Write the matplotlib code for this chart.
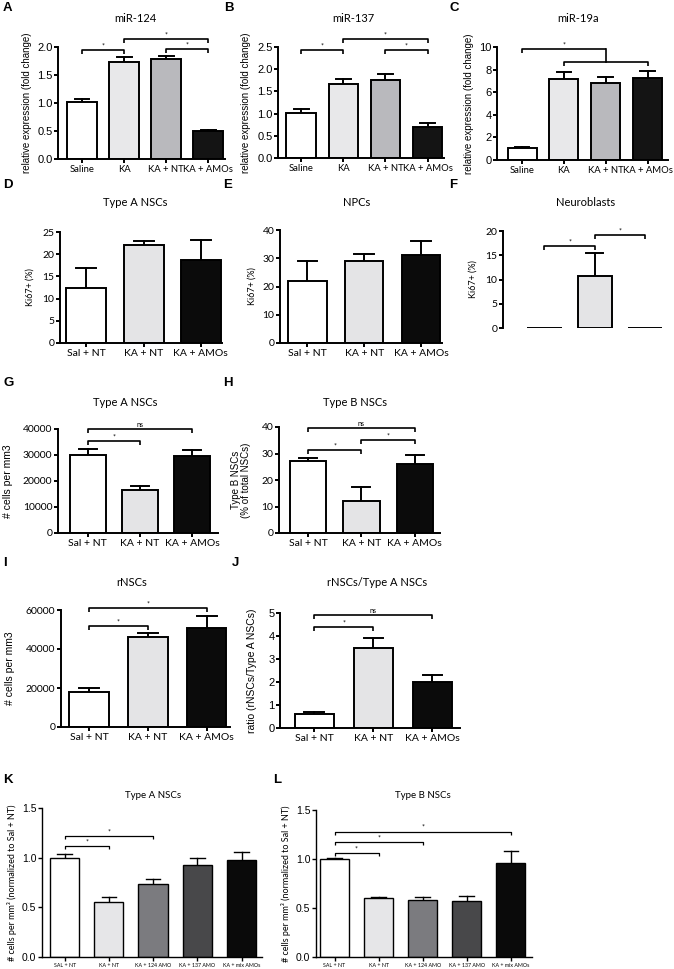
import matplotlib
matplotlib.use('Agg')
import matplotlib.pyplot as plt

plt.rcParams['font.family'] = ['Lato', 'DejaVu Sans']
ARIAL = ['Liberation Sans', 'DejaVu Sans']
CALI = ['Lato', 'DejaVu Sans']

W, H = 674, 969
fig = plt.figure(figsize=(W / 100, H / 100), dpi=100)

# ---------------- data ----------------
mir_groups = ["Saline", "KA", "KA + NT", "KA + AMOs"]
mir124 = [1.02, 1.74, 1.79, 0.50]
mir124_err = [0.05, 0.08, 0.05, 0.02]
mir137 = [1.02, 1.67, 1.75, 0.70]
mir137_err = [0.08, 0.10, 0.15, 0.08]
mir19a = [1.05, 7.2, 6.85, 7.3]
mir19a_err = [0.08, 0.6, 0.5, 0.55]

grp3 = ["Sal + NT", "KA + NT", "KA + AMOs"]
ki67_typeA = [12.5, 22.0, 18.7]
ki67_typeA_err = [4.5, 1.0, 4.5]
ki67_npc = [22.0, 29.0, 31.0]
ki67_npc_err = [7.0, 2.5, 5.0]
ki67_nb = [0.0, 10.7, 0.0]
ki67_nb_err = [0.0, 4.7, 0.0]

typeA_cells = [30000, 16500, 29500]
typeA_cells_err = [2500, 1500, 2300]
typeB_pct = [27.0, 12.0, 26.0]
typeB_pct_err = [1.2, 5.5, 3.3]
rnsc_cells = [18000, 46000, 51000]
rnsc_cells_err = [2200, 2300, 6000]
ratio_rnsc = [0.62, 3.47, 2.02]
ratio_rnsc_err = [0.08, 0.45, 0.28]

grp5 = ["SAL + NT", "KA + NT", "KA + 124 AMO", "KA + 137 AMO", "KA + mix AMOs"]
norm_typeA = [1.0, 0.55, 0.73, 0.93, 0.98]
norm_typeA_err = [0.04, 0.05, 0.06, 0.07, 0.08]
norm_typeB = [1.0, 0.60, 0.58, 0.57, 0.96]
norm_typeB_err = [0.01, 0.01, 0.03, 0.05, 0.12]

col4 = ["#ffffff", "#e8e8ea", "#b9b9bd", "#141414"]
col3 = ["#ffffff", "#e4e4e6", "#0b0b0b"]
col5 = ["#ffffff", "#e6e6e8", "#7b7b7f", "#48484a", "#0a0a0a"]


def add_ax(l, t, r, b):
    return fig.add_axes([l / W, 1 - b / H, (r - l) / W, (b - t) / H])


def panel(box, vals, errs, cols, labels, ylim, yticks, xlim, width,
          title, ylabel, letter, letter_xy, title_xy, ylab_off,
          tfs=7.5, tfam=CALI, lfs=7, lfam=ARIAL, xfs=7.5, titfs=8,
          show_bottom=True, yfmt=None, lw=1.4):
    ax = add_ax(*box)
    x = list(range(len(vals)))
    ax.bar(x, vals, width=width, color=cols, edgecolor='black', linewidth=lw, zorder=2)
    for xi, v, e in zip(x, vals, errs):
        if e > 0:
            ax.plot([xi, xi], [v, v + e], color='black', lw=lw, zorder=1, clip_on=False)
            ax.plot([xi - width * 0.25, xi + width * 0.25], [v + e, v + e],
                    color='black', lw=lw, zorder=1, clip_on=False)
    ax.set_xlim(*xlim)
    ax.set_ylim(*ylim)
    ax.set_yticks(yticks)
    if yfmt:
        ax.set_yticklabels([yfmt.format(t) for t in yticks], family=tfam, fontsize=tfs)
    else:
        ax.set_yticklabels([str(t) for t in yticks], family=tfam, fontsize=tfs)
    ax.spines['top'].set_visible(False)
    ax.spines['right'].set_visible(False)
    ax.spines['left'].set_linewidth(lw)
    ax.spines['bottom'].set_linewidth(lw)
    ax.tick_params(axis='y', direction='out', length=3, width=lw, pad=1)
    if show_bottom:
        ax.set_xticks(x)
        ax.set_xticklabels(labels, family=CALI, fontsize=xfs)
        ax.tick_params(axis='x', direction='out', length=3, width=lw, pad=1)
    else:
        ax.spines['bottom'].set_visible(False)
        ax.set_xticks([])
    ax.patch.set_visible(False)
    l, t, r, b = box
    ax.set_ylabel(ylabel, fontsize=lfs, family=lfam, linespacing=1.0)
    ax.yaxis.set_label_coords(ylab_off / (r - l), 0.5)
    fig.text(letter_xy[0] / W, 1 - letter_xy[1] / H, letter, fontsize=9.5,
             fontweight='bold', ha='left', va='center', family=ARIAL)
    fig.text(title_xy[0] / W, 1 - title_xy[1] / H, title, fontsize=titfs,
             ha='center', va='center', family=CALI)
    return ax


def bracket(ax, x1, x2, y, text, drop_px=4, fs=5, lw=1.2, ticks=(True, True)):
    y0, y1 = ax.get_ylim()
    hpx = ax.get_position().height * H
    d = drop_px * (y1 - y0) / hpx
    xs, ys = [], []
    if ticks[0]:
        xs += [x1]; ys += [y - d]
    xs += [x1, x2]; ys += [y, y]
    if ticks[1]:
        xs += [x2]; ys += [y - d]
    ax.plot(xs, ys, color='black', lw=lw, clip_on=False, solid_capstyle='butt')
    if text:
        ax.annotate(text, xy=((x1 + x2) / 2, y), xytext=(0, 0.5), textcoords='offset points',
                    ha='center', va='bottom', fontsize=fs, annotation_clip=False, family=CALI)


# ---------------- A ----------------
axA = panel((58, 47, 225, 159), mir124, mir124_err, col4, mir_groups,
            (0, 2.0), [0, 0.5, 1.0, 1.5, 2.0], (-0.57, 3.4), 0.71,
            "miR-124", "relative expression (fold change)", "A", (3, 8), (135, 18), -26,
            tfam=ARIAL, tfs=8, xfs=6.8, yfmt="{:.1f}")
bracket(axA, 0, 1, 1.95, "*")
bracket(axA, 1, 3, 2.14, "*")
bracket(axA, 2, 3, 1.96, "*")

# ---------------- B ----------------
axB = panel((278, 47, 444, 158), mir137, mir137_err, col4, mir_groups,
            (0, 2.5), [0, 0.5, 1.0, 1.5, 2.0, 2.5], (-0.55, 3.39), 0.70,
            "miR-137", "relative expression (fold change)", "B", (224, 8), (353, 18), -27,
            tfam=ARIAL, tfs=8, xfs=6.8, yfmt="{:.1f}")
bracket(axB, 0, 1, 2.43, "*")
bracket(axB, 1, 3, 2.68, "*")
bracket(axB, 2, 3, 2.43, "*")

# ---------------- C ----------------
axC = panel((497, 47, 668, 160), mir19a, mir19a_err, col4, mir_groups,
            (0, 10), [0, 2, 4, 6, 8, 10], (-0.6, 3.49), 0.69,
            "miR-19a", "relative expression (fold change)", "C", (449, 8), (578, 18), -23,
            tfam=ARIAL, tfs=8, xfs=6.8)
bracket(axC, 1, 3, 8.7, None, drop_px=4)
bracket(axC, 0, 2, 9.8, "*", drop_px=4, ticks=(True, False))
axC.plot([2, 2], [9.8, 8.7], color='black', lw=1.2, clip_on=False)

# ---------------- D ----------------
panel((60, 232, 222, 343), ki67_typeA, ki67_typeA_err, col3, grp3,
      (0, 25), [0, 5, 10, 15, 20, 25], (-0.46, 2.37), 0.70,
      "Type A NSCs", "Ki67+ (%)", "D", (3, 185), (135, 202), -25, lfam=CALI, lfs=6.5)

# ---------------- E ----------------
panel((280, 230, 442, 343), ki67_npc, ki67_npc_err, col3, grp3,
      (0, 40), [0, 10, 20, 30, 40], (-0.48, 2.37), 0.68,
      "NPCs", "Ki67+ (%)", "E", (223, 185), (357, 202), -23, lfam=CALI, lfs=6.5)

# ---------------- F ----------------
axF = panel((503, 231, 665, 328), ki67_nb, ki67_nb_err, col3, grp3,
            (0, 20), [0, 5, 10, 15, 20], (-0.82, 2.39), 0.68,
            "Neuroblasts", "Ki67+ (%)", "F", (449, 185), (586, 202), -25,
            lfam=CALI, lfs=6.5, show_bottom=False)
bracket(axF, 0, 1, 16.9, "*")
bracket(axF, 1, 2, 19.2, "*")

# ---------------- G ----------------
axG = panel((58, 429, 218, 533), typeA_cells, typeA_cells_err, col3, grp3,
            (0, 40000), [0, 10000, 20000, 30000, 40000], (-0.57, 2.49), 0.69,
            "Type A NSCs", "# cells per mm3", "G", (3, 383), (125, 402), -45, lfs=7.5)
bracket(axG, 0, 1, 35400, "*")
bracket(axG, 0, 2, 40000, "ns")

# ---------------- H ----------------
axH = panel((279, 427, 440, 533), typeB_pct, typeB_pct_err, col3, grp3,
            (0, 40), [0, 10, 20, 30, 40], (-0.54, 2.47), 0.68,
            "Type B NSCs", "Type B NSCs\n(% of total NSCs)", "H", (223, 383), (355, 402), -28, lfs=7)
bracket(axH, 0, 1, 31.3, "*")
bracket(axH, 1, 2, 35.1, "*")
bracket(axH, 0, 2, 39.6, "ns")

# ---------------- I ----------------
axI = panel((61, 610, 230, 727), rnsc_cells, rnsc_cells_err, col3, grp3,
            (0, 60000), [0, 20000, 40000, 60000], (-0.48, 2.4), 0.68,
            "rNSCs", "# cells per mm3", "I", (3, 563), (132, 582), -46, lfs=7.5)
bracket(axI, 0, 1, 51800, "*")
bracket(axI, 0, 2, 61000, "*")

# ---------------- J ----------------
axJ = panel((280, 613, 460, 728), ratio_rnsc, ratio_rnsc_err, col3, grp3,
            (0, 5), [0, 1, 2, 3, 4, 5], (-0.58, 2.47), 0.66,
            "rNSCs/Type A NSCs", "ratio (rNSCs/Type A NSCs)", "J", (232, 563), (377, 582), -23,
            tfam=ARIAL, tfs=8, lfs=7.5)
bracket(axJ, 0, 1, 4.39, "*")
bracket(axJ, 0, 2, 4.91, "ns")

# ---------------- K ----------------
axK = panel((42, 808, 262, 957), norm_typeA, norm_typeA_err, col5, grp5,
            (0, 1.5), [0, 0.5, 1.0, 1.5], (-0.51, 4.46), 0.66,
            "Type A NSCs", "# cells per mm\u00b3 (normalized to Sal + NT)", "K", (3, 780), (153, 795), -25,
            tfam=ARIAL, tfs=7.5, lfam=CALI, lfs=6.5, xfs=3.8, titfs=7, yfmt="{:.1f}", lw=1.0)
bracket(axK, 0, 1, 1.12, "*", lw=0.9, drop_px=3)
bracket(axK, 0, 2, 1.22, "*", lw=0.9, drop_px=3)

# ---------------- L ----------------
axL = panel((316, 810, 532, 957), norm_typeB, norm_typeB_err, col5, grp5,
            (0, 1.5), [0, 0.5, 1.0, 1.5], (-0.42, 4.48), 0.66,
            "Type B NSCs", "# cells per mm\u00b3 (normalized to Sal + NT)", "L", (273, 780), (423, 795), -25,
            tfam=ARIAL, tfs=7.5, lfam=CALI, lfs=6.5, xfs=3.8, titfs=7, yfmt="{:.1f}", lw=1.0)
bracket(axL, 0, 1, 1.06, "*", lw=0.9, drop_px=3)
bracket(axL, 0, 2, 1.17, "*", lw=0.9, drop_px=3)
bracket(axL, 0, 4, 1.28, "*", lw=0.9, drop_px=3)

fig.savefig("out.png", dpi=100, facecolor='white')
